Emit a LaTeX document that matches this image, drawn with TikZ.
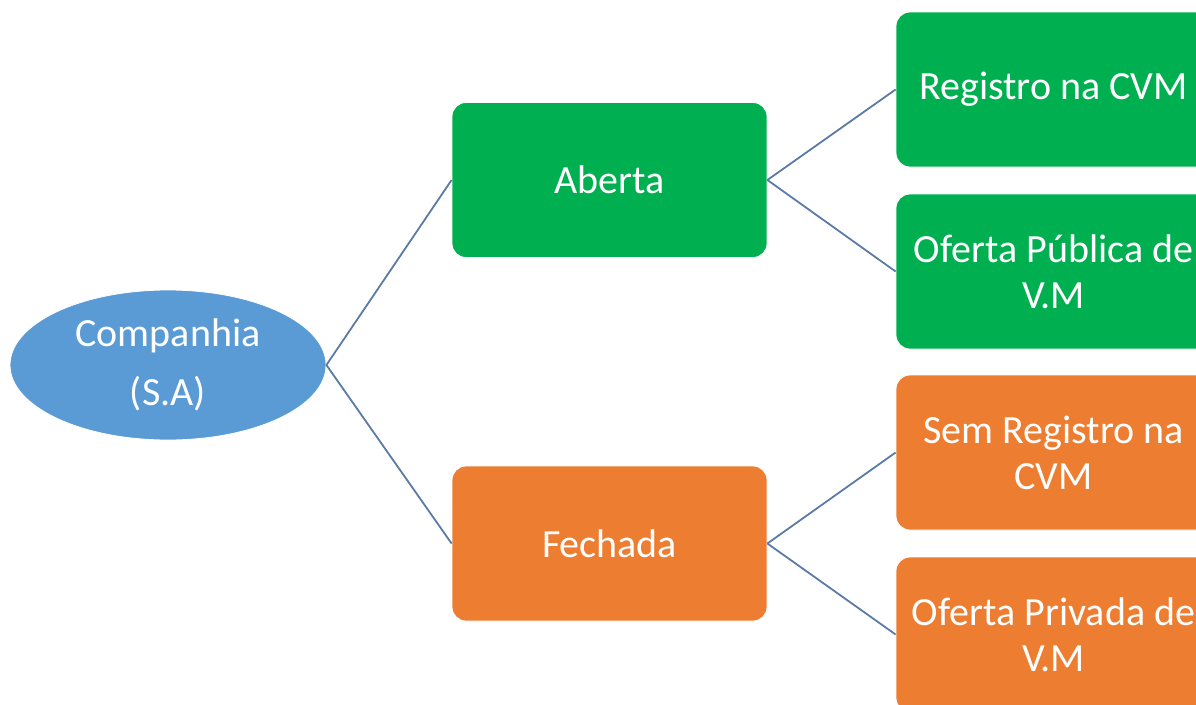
\documentclass[tikz,border=0pt]{standalone}
\usepackage{fontspec}
\setmainfont{Carlito}
\usetikzlibrary{shapes.geometric}

\definecolor{sablue}{HTML}{5B9BD5}
\definecolor{sagreen}{HTML}{00B050}
\definecolor{saorange}{HTML}{ED7D31}
\definecolor{saline}{HTML}{5B7BA6}

\begin{document}
\begin{tikzpicture}[x=1pt,y=-1pt,
	box/.style={rectangle, rounded corners=14pt, draw=white, line width=0.8pt,
		minimum width=315pt, minimum height=155pt, inner sep=0pt,
		text=white, align=center, font=\fontsize{40}{46}\selectfont},
	greenbox/.style={box, fill=sagreen},
	orangebox/.style={box, fill=saorange},
	link/.style={draw=saline, line width=1.8pt}]

	\useasboundingbox (0,0) rectangle (1196,704);
	\clip (0,0) rectangle (1196,704);

	\node[ellipse, fill=sablue, draw=white, line width=0.8pt, minimum width=316pt,
		minimum height=150pt, inner sep=0pt, text=white, align=center,
		font=\fontsize{40}{46}\selectfont] (cia) at (168,365) {Companhia\\[13pt](S.A)};

	\node[greenbox] (aberta) at (609.5,180) {Aberta};
	\node[orangebox] (fechada) at (609.5,543.5) {Fechada};

	\node[greenbox] (registro) at (1053.5,89.5) {Registro na CVM};
	\node[greenbox] (publica) at (1053.5,271.5) {Oferta Pública de\\V.M};
	\node[orangebox] (semreg) at (1053.5,452.5) {Sem Registro na\\CVM};
	\node[orangebox] (privada) at (1053.5,634.5) {Oferta Privada de\\V.M};

	\draw[link] (cia.east) -- (aberta.west);
	\draw[link] (cia.east) -- (fechada.west);
	\draw[link] (aberta.east) -- (registro.west);
	\draw[link] (aberta.east) -- (publica.west);
	\draw[link] (fechada.east) -- (semreg.west);
	\draw[link] (fechada.east) -- (privada.west);

\end{tikzpicture}
\end{document}
